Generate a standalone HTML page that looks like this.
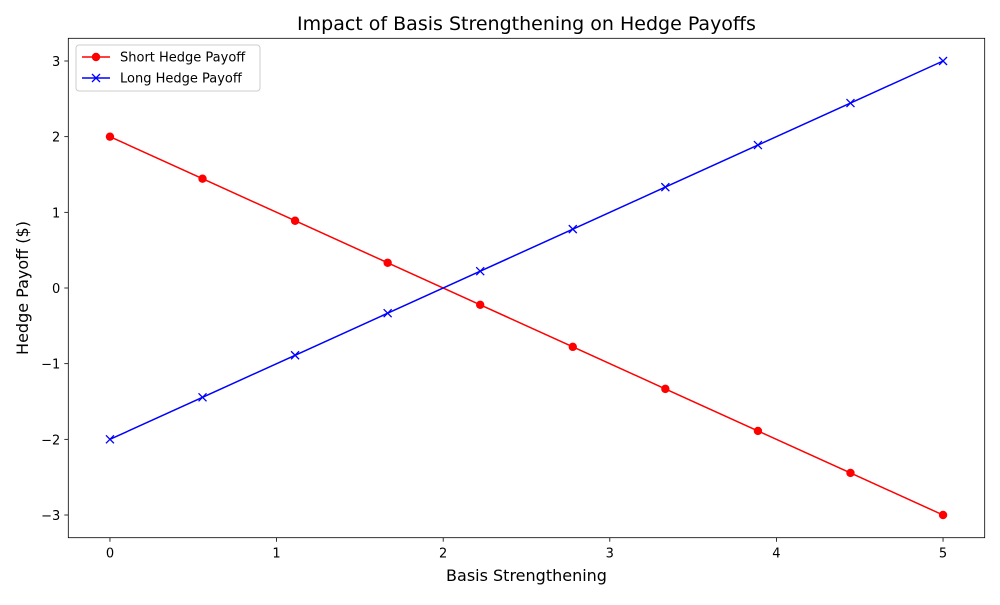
<!DOCTYPE html>
<html><head><meta charset="utf-8"><style>
body{margin:0;background:#fff;}
svg text{font-family:"DejaVu Sans","Liberation Sans",sans-serif;fill:#000;}
</style></head><body>
<svg id="chart" width="1000" height="600" viewBox="0 0 1000 600"></svg>
<script>
const xValues=[0,0.5556,1.1111,1.6667,2.2222,2.7778,3.3333,3.8889,4.4444,5];
const shortPayoff=[2,1.4444,0.8889,0.3333,-0.2222,-0.7778,-1.3333,-1.8889,-2.4444,-3];
const longPayoff=[-2,-1.4444,-0.8889,-0.3333,0.2222,0.7778,1.3333,1.8889,2.4444,3];
const xTicks=[0,1,2,3,4,5];
const yTicks=[-3,-2,-1,0,1,2,3];

const NS="http://www.w3.org/2000/svg";
const svg=document.getElementById('chart');
const L=68.3,R=984.7,T=38.3,B=537.7;
const xMin=-0.25,xMax=5.25,yMin=-3.3,yMax=3.3;
const sx=v=>L+(v-xMin)/(xMax-xMin)*(R-L);
const sy=v=>B-(v-yMin)/(yMax-yMin)*(B-T);
function mk(tag,attrs,parent){const e=document.createElementNS(NS,tag);for(const k in attrs)e.setAttribute(k,attrs[k]);(parent||svg).appendChild(e);return e;}

const title=mk('text',{x:(L+R)/2,y:30,'text-anchor':'middle','font-size':19});
title.textContent='Impact of Basis Strengthening on Hedge Payoffs';



xTicks.forEach(t=>{
  const g=mk('g',{});
  
  
  mk('line',{x1:sx(t),x2:sx(t),y1:B,y2:B+4,stroke:'#000','stroke-width':0.8},g);
  const tx=mk('text',{x:sx(t),y:B+20,'text-anchor':'middle','font-size':13},g);tx.textContent=t;
});
yTicks.forEach(t=>{
  const g=mk('g',{});
  
  
  mk('line',{x1:L-4,x2:L,y1:sy(t),y2:sy(t),stroke:'#000','stroke-width':0.8},g);
  const tx=mk('text',{x:L-8,y:sy(t)+5,'text-anchor':'end','font-size':13},g);tx.textContent=(t<0?'\u2212'+(-t):t);
});

const xl=mk('text',{x:(L+R)/2,y:581,'text-anchor':'middle','font-size':16});xl.textContent='Basis Strengthening';


const yl=mk('text',{x:0,y:0,'text-anchor':'middle','font-size':16,transform:`translate(28,${(T+B)/2}) rotate(-90)`});yl.textContent='Hedge Payoff ($)';



function series(vals,color,marker,name){
  const g=mk('g',{});
  
  
  mk('polyline',{points:xValues.map((x,i)=>sx(x)+','+sy(vals[i])).join(' '),fill:'none',stroke:color,'stroke-width':1.5},g);
  xValues.forEach((x,i)=>{
    const cx=sx(x),cy=sy(vals[i]);
    let m;
    if(marker==='o') m=mk('circle',{cx:cx,cy:cy,r:4.2,fill:color},g);
    else m=mk('path',{d:`M${cx-4},${cy-4}L${cx+4},${cy+4}M${cx-4},${cy+4}L${cx+4},${cy-4}`,stroke:color,'stroke-width':1.3},g);
    
    
  });
}
series(shortPayoff,'#ff0000','o','short-hedge-series');
series(longPayoff,'#0000ff','x','long-hedge-series');

const frame=mk('rect',{x:L,y:T,width:R-L,height:B-T,fill:'none',stroke:'#000','stroke-width':0.8});



const lg=mk('g',{});


mk('rect',{x:76,y:45,width:184,height:46,rx:3,fill:'#fff',stroke:'#ccc','stroke-width':1},lg);
const e1=mk('g',{},lg);


mk('line',{x1:82,x2:110,y1:57,y2:57,stroke:'#ff0000','stroke-width':1.5},e1);
mk('circle',{cx:96,cy:57,r:4.2,fill:'#ff0000'},e1);
const t1=mk('text',{x:120,y:61.5,'font-size':13},e1);t1.textContent='Short Hedge Payoff';
const e2=mk('g',{},lg);


mk('line',{x1:82,x2:110,y1:78,y2:78,stroke:'#0000ff','stroke-width':1.5},e2);
mk('path',{d:'M92,74L100,82M92,82L100,74',stroke:'#0000ff','stroke-width':1.3},e2);
const t2=mk('text',{x:120,y:82.5,'font-size':13},e2);t2.textContent='Long Hedge Payoff';
</script>
</body></html>
